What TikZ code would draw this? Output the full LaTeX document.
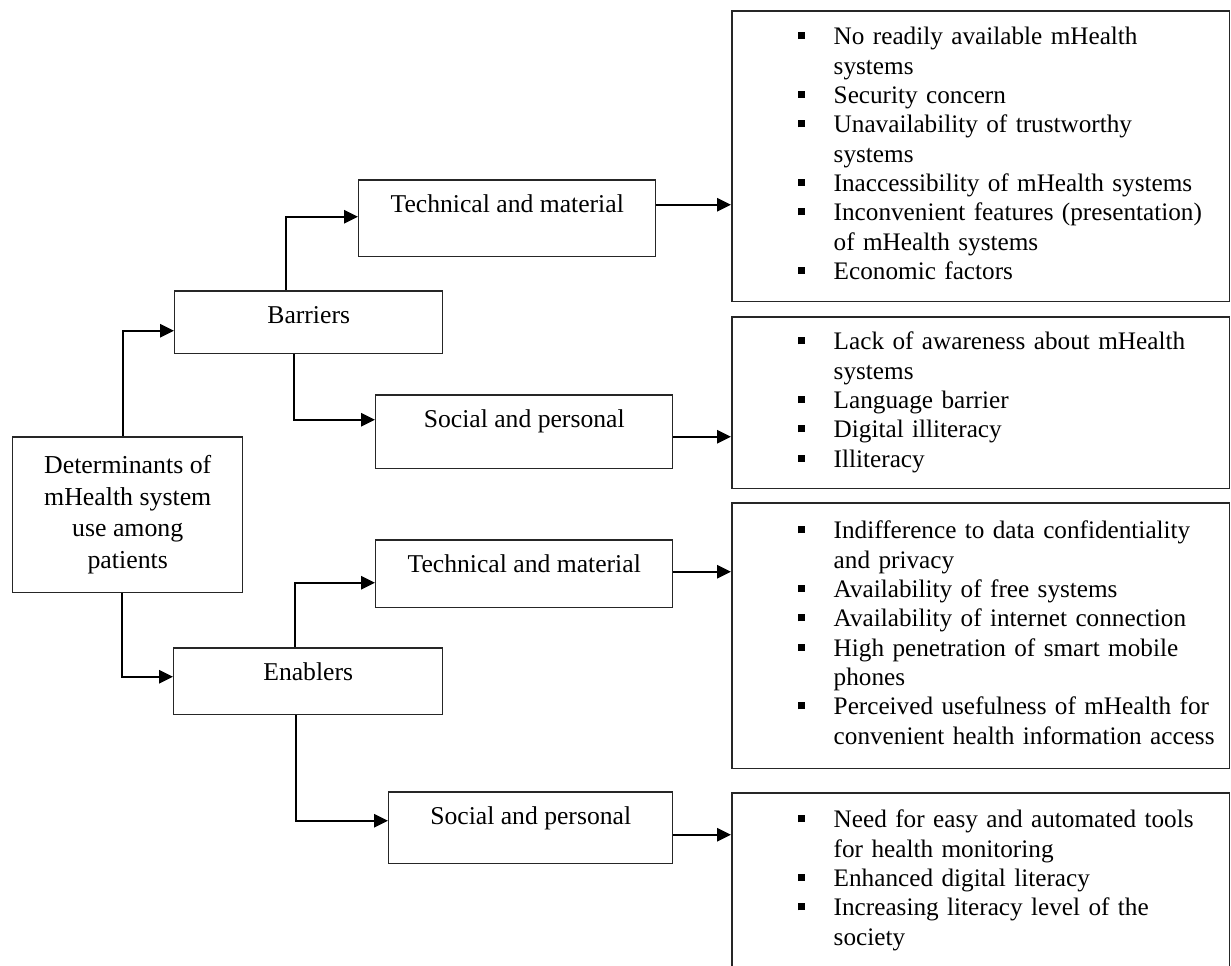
\documentclass[tikz,border=0pt]{standalone}
\usepackage{fontspec}
\setmainfont{Liberation Serif}
\usepackage{tikz}
\usetikzlibrary{arrows.meta}
\newcommand{\bul}{\rule[0.11cm]{0.14cm}{0.14cm}}

\begin{document}
\begin{tikzpicture}[x=0.02cm,y=-0.02cm,>={Triangle[length=0.28cm,width=0.27cm]},
  root/.style={draw=black!85,line width=0.85pt,anchor=north west,inner sep=0pt,align=center,
    minimum width=4.6cm,minimum height=3.12cm,font=\fontsize{14.7}{18}\selectfont},
  box/.style={draw=black!85,line width=0.85pt,anchor=north west,inner sep=0pt,text height=0.66cm,
    font=\fontsize{14.6}{16.7}\selectfont},
  lst/.style={draw=black!85,line width=0.85pt,anchor=north west,inner sep=0pt,text width=9.96cm,
    align=left,font=\fontsize{14.35}{16.7}\selectfont},
  conn/.style={->,line width=1pt}]
  \useasboundingbox[fill=white] (0,0) rectangle (1231,965);

  % left part
  \node[root] (main) at (12,436) {Determinants of\\mHealth system\\use among\\patients};
  \node[box,minimum width=5.36cm,text depth=0.6cm] (barr) at (174,290) {Barriers};
  \node[box,minimum width=5.38cm,text depth=0.68cm] (enab) at (173,647) {Enablers};
  \node[box,minimum width=5.94cm,text depth=0.88cm] (tech1) at (358,179) {Technical and material};
  \node[box,minimum width=5.94cm,text depth=0.82cm] (soc1) at (375,394) {Social and personal};
  \node[box,minimum width=5.94cm,text depth=0.7cm] (tech2) at (375,539) {Technical and material};
  \node[box,minimum width=5.68cm,text depth=0.78cm] (soc2) at (388,791) {Social and personal};

  % lists
  \node[lst,minimum height=5.82cm] (list1) at (731,10) {\noindent\hspace*{1.32cm}\begin{tabular}{@{}l@{\hspace{0.58cm}}l@{}}
    \bul & No readily available mHealth\\
         & systems\\
    \bul & Security concern\\
    \bul & Unavailability of trustworthy\\
         & systems\\
    \bul & Inaccessibility of mHealth systems\\
    \bul & Inconvenient features (presentation)\\
         & of mHealth systems\\
    \bul & Economic factors
  \end{tabular}};
  \node[lst,minimum height=3.44cm] (list2) at (731,316) {\noindent\hspace*{1.32cm}\begin{tabular}{@{}l@{\hspace{0.58cm}}l@{}}
    \bul & Lack of awareness about mHealth\\
         & systems\\
    \bul & Language barrier\\
    \bul & Digital illiteracy\\
    \bul & Illiteracy
  \end{tabular}};
  \node[lst,minimum height=5.32cm] (list3) at (731,502) {\noindent\hspace*{1.32cm}\begin{tabular}{@{}l@{\hspace{0.58cm}}l@{}}
    \bul & Indifference to data confidentiality\\
         & and privacy\\
    \bul & Availability of free systems\\
    \bul & Availability of internet connection\\
    \bul & High penetration of smart mobile\\
         & phones\\
    \bul & Perceived usefulness of mHealth for\\
         & convenient health information access
  \end{tabular}};
  \node[lst,minimum height=3.52cm] (list4) at (731,792) {\noindent\hspace*{1.32cm}\begin{tabular}{@{}l@{\hspace{0.58cm}}l@{}}
    \bul & Need for easy and automated tools\\
         & for health monitoring\\
    \bul & Enhanced digital literacy\\
    \bul & Increasing literacy level of the\\
         & society
  \end{tabular}};

  % connectors
  \draw[conn] ([xshift=-0.1cm]main.north) |- ([yshift=-0.17cm]barr.west);
  \draw[conn] ([xshift=-0.12cm]main.south) |- ([yshift=0.09cm]enab.west);
  \draw[conn] ([xshift=-0.46cm]barr.north) |- ([yshift=0.03cm]tech1.west);
  \draw[conn] ([xshift=-0.3cm]barr.south) |- ([yshift=0.24cm]soc1.west);
  \draw[conn] ([xshift=-0.27cm]enab.north) |- ([yshift=-0.18cm]tech2.west);
  \draw[conn] ([xshift=-0.25cm]enab.south) |- ([yshift=0.14cm]soc2.west);

  \coordinate (t1) at ([yshift=0.27cm]tech1.east);
  \coordinate (s1) at ([yshift=-0.1cm]soc1.east);
  \coordinate (t2) at ([yshift=0.04cm]tech2.east);
  \coordinate (s2) at ([yshift=-0.14cm]soc2.east);
  \draw[conn] (t1) -- (t1 -| list1.west);
  \draw[conn] (s1) -- (s1 -| list2.west);
  \draw[conn] (t2) -- (t2 -| list3.west);
  \draw[conn] (s2) -- (s2 -| list4.west);
\end{tikzpicture}
\end{document}
